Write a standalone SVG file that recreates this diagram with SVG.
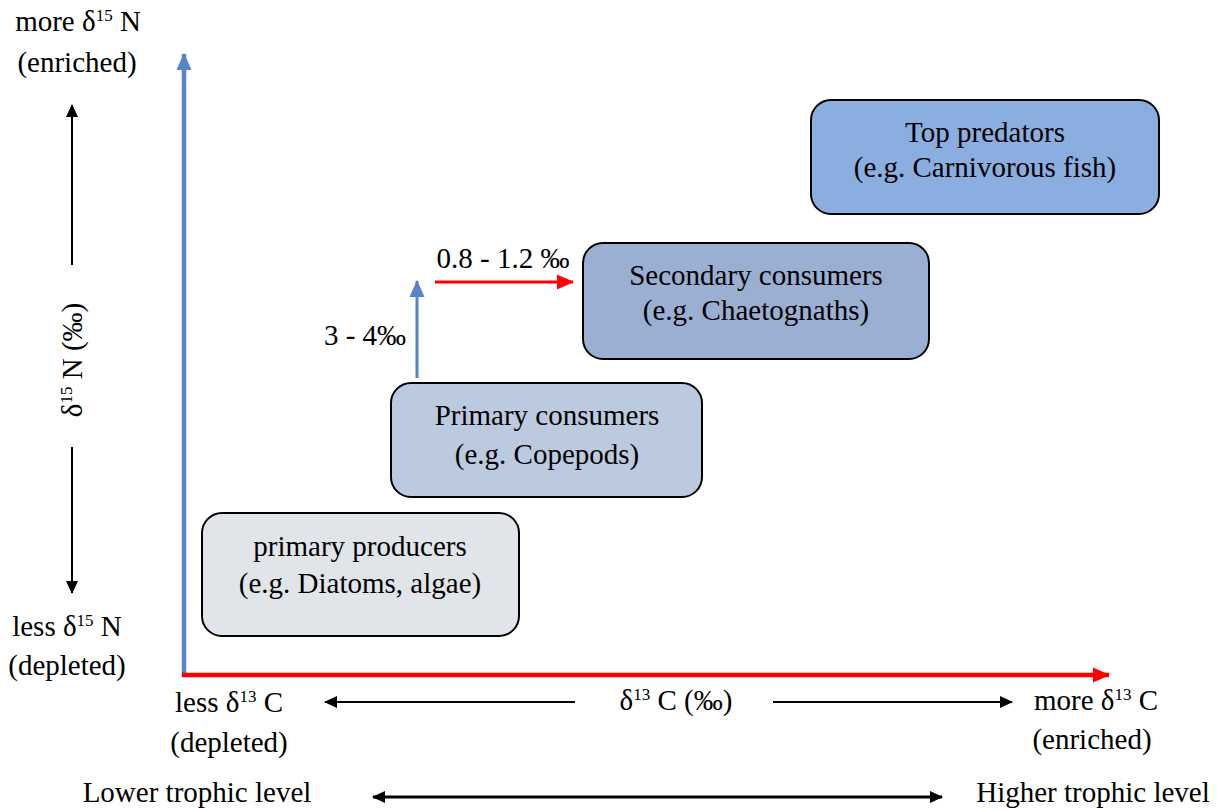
<svg xmlns="http://www.w3.org/2000/svg" width="1218" height="811" viewBox="0 0 1218 811">
<style>
text{font-family:"Liberation Serif","Times New Roman",serif;font-size:29px;fill:#000;text-anchor:middle}
.box{stroke:#000;stroke-width:2}
.blk{stroke:#000;stroke-width:2;fill:none}
.sup{font-size:17px}
</style>
<defs>
<marker id="ab" markerUnits="userSpaceOnUse" markerWidth="14" markerHeight="14" refX="12" refY="7" orient="auto-start-reverse"><path d="M0,1 L13,7 L0,13 Z" fill="#000"/></marker>
<marker id="ablue" markerUnits="userSpaceOnUse" markerWidth="18" markerHeight="18" refX="16" refY="9" orient="auto"><path d="M0,1.5 L17,9 L0,16.5 Z" fill="#5585c5"/></marker>
<marker id="ared" markerUnits="userSpaceOnUse" markerWidth="18" markerHeight="18" refX="16" refY="9" orient="auto"><path d="M0,1.5 L17,9 L0,16.5 Z" fill="#ff0000"/></marker>
</defs>
<rect width="1218" height="811" fill="#fff"/>
<g id="connectors">
<line x1="184" y1="677" x2="184" y2="54" stroke="#5585c5" stroke-width="4.5" marker-end="url(#ablue)"/>
<line x1="182" y1="675" x2="1109" y2="675" stroke="#ff0000" stroke-width="4.5" marker-end="url(#ared)"/>
<line x1="72" y1="265" x2="72" y2="105" class="blk" marker-end="url(#ab)"/>
<line x1="72" y1="447" x2="72" y2="593" class="blk" marker-end="url(#ab)"/>
<line x1="575" y1="702" x2="325" y2="702" class="blk" marker-end="url(#ab)"/>
<line x1="773" y1="702" x2="1012" y2="702" class="blk" marker-end="url(#ab)"/>
<line x1="373" y1="797" x2="942" y2="797" stroke="#000" stroke-width="3" marker-start="url(#ab)" marker-end="url(#ab)"/>
<line x1="417" y1="378" x2="417" y2="281" stroke="#5585c5" stroke-width="3" marker-end="url(#ablue)"/>
<line x1="435" y1="282" x2="573" y2="282" stroke="#ff0000" stroke-width="3" marker-end="url(#ared)"/>
</g>
<g id="node-top">
<rect class="box" x="811" y="100" width="348" height="114" rx="20" fill="#8aaee0"/>
<text x="985" y="142">Top predators</text>
<text x="985" y="177">(e.g. Carnivorous fish)</text>
</g>
<g id="node-secondary">
<rect class="box" x="583" y="243" width="346" height="116" rx="20" fill="#9aafd2"/>
<text x="756" y="285">Secondary consumers</text>
<text x="756" y="320">(e.g. Chaetognaths)</text>
</g>
<g id="node-primary">
<rect class="box" x="391" y="383" width="311" height="114" rx="20" fill="#bccae0"/>
<text x="547" y="425">Primary consumers</text>
<text x="547" y="464">(e.g. Copepods)</text>
</g>
<g id="node-producers">
<rect class="box" x="202" y="513" width="317" height="123" rx="20" fill="#e1e5ea"/>
<text x="360" y="556">primary producers</text>
<text x="360" y="593">(e.g. Diatoms, algae)</text>
</g>
<g id="labels">
<text x="78" y="31">more δ<tspan class="sup" dy="-10">15</tspan><tspan dy="10"> N</tspan></text>
<text x="77" y="72">(enriched)</text>
<text x="67" y="636">less δ<tspan class="sup" dy="-10">15</tspan><tspan dy="10"> N</tspan></text>
<text x="67" y="675">(depleted)</text>
<text transform="translate(82,360) rotate(-90)">δ<tspan class="sup" dy="-10">15</tspan><tspan dy="10"> N (‰)</tspan></text>
<text x="229" y="712">less δ<tspan class="sup" dy="-10">13</tspan><tspan dy="10"> C</tspan></text>
<text x="229" y="752">(depleted)</text>
<text x="676" y="710">δ<tspan class="sup" dy="-10">13</tspan><tspan dy="10"> C (‰)</tspan></text>
<text x="1096" y="710">more δ<tspan class="sup" dy="-10">13</tspan><tspan dy="10"> C</tspan></text>
<text x="1092" y="749">(enriched)</text>
<text x="197" y="802">Lower trophic level</text>
<text x="1093" y="802">Higher trophic level</text>
<text x="365" y="345">3 - 4‰</text>
<text x="503" y="268">0.8 - 1.2 ‰</text>
</g>
</svg>
